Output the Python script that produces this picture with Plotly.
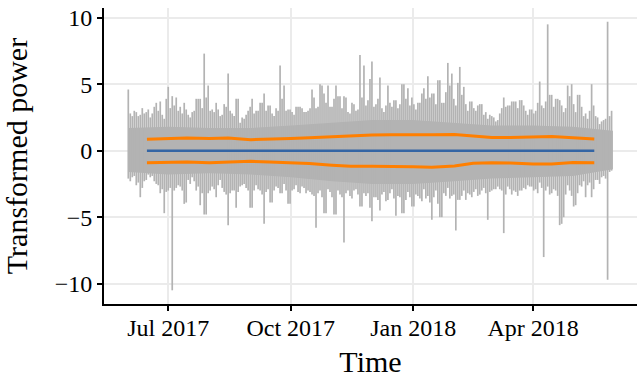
import pandas as pd
import plotly.graph_objects as go

# Transformed power: extremes per 3-day window, starting 2017-06-01
window_start = "2017-06-01"
window_days = 3
window_high = [
    4.6, 2.6, 2.9, 2.7, 2.8, 3.1, 2.8, 3.6, 3.7, 2.4,
    4.8, 4.1, 4.0, 3.3, 3.6, 2.7, 2.9, 3.9, 3.9, 7.3,
    4.9, 3.1, 3.6, 2.6, 3.5, 5.8, 2.8, 3.9, 2.1, 2.4,
    3.0, 3.9, 3.0, 3.6, 4.3, 3.4, 2.8, 3.2, 6.4, 4.9,
    3.1, 2.9, 3.3, 3.3, 2.9, 3.0, 4.6, 3.2, 5.0, 4.3,
    4.9, 3.3, 4.9, 4.1, 4.1, 2.9, 3.6, 3.0, 7.2, 6.4,
    3.8, 6.7, 3.5, 5.5, 2.9, 4.9, 3.3, 3.8, 3.5, 5.0,
    4.7, 4.0, 3.1, 3.6, 4.7, 5.6, 4.3, 3.5, 5.3, 3.6,
    6.6, 5.8, 3.4, 6.3, 4.8, 3.0, 3.7, 3.0, 3.5, 2.7,
    2.4, 2.6, 2.2, 2.8, 4.0, 3.4, 3.7, 3.7, 3.8, 3.4,
    2.7, 3.1, 3.0, 5.2, 3.2, 9.5, 4.2, 3.9, 3.8, 2.9,
    4.9, 5.0, 2.9, 4.2, 2.6, 2.4, 5.0, 2.6, 2.0, 2.3,
    9.7, 3.0,
]
window_low = [
    -2.1, -2.0, -2.6, -3.5, -2.3, -1.8, -1.9, -2.5, -3.2, -4.7,
    -3.0, -10.5, -2.8, -2.7, -4.0, -2.2, -2.0, -3.0, -4.1, -4.8,
    -3.2, -2.7, -3.5, -2.2, -3.1, -5.6, -3.0, -4.3, -2.7, -2.5,
    -3.0, -4.3, -2.6, -3.0, -5.5, -2.9, -3.9, -2.7, -3.2, -2.5,
    -4.0, -3.0, -2.6, -3.2, -2.8, -3.0, -3.3, -5.8, -3.0, -4.7,
    -2.9, -3.5, -4.8, -3.3, -6.9, -3.0, -3.6, -2.9, -4.2, -3.2,
    -3.2, -5.3, -3.5, -4.5, -3.1, -3.7, -2.9, -4.9, -3.5, -4.7,
    -3.1, -4.2, -3.3, -3.6, -2.9, -3.4, -5.2, -3.0, -5.0, -3.2,
    -2.8, -3.4, -6.0, -3.7, -3.0, -3.2, -3.5, -2.9, -3.3, -2.8,
    -5.2, -3.0, -2.9, -2.9, -6.2, -2.7, -3.3, -3.1, -3.0, -2.8,
    -2.6, -2.7, -2.9, -2.4, -8.0, -2.7, -3.2, -3.0, -5.6, -5.0,
    -2.6, -3.4, -4.1, -2.6, -2.3, -2.6, -3.5, -2.2, -2.5, -1.9,
    -9.7, -1.5,
]

# Extremes of the windows offset by half a window (starting 2017-06-02 12:00)
offset_high = [
    2.8, 3.0, 2.6, 3.2, 2.9, 2.5, 3.3, 3.0, 2.7, 3.9,
    3.2, 3.4, 3.0, 2.8, 3.1, 2.5, 3.0, 3.9, 3.2, 4.0,
    3.0, 2.9, 3.1, 2.7, 3.3, 3.0, 2.6, 3.9, 2.5, 2.7,
    3.3, 2.8, 3.0, 3.6, 3.0, 3.4, 2.6, 3.0, 3.9, 3.0,
    3.1, 2.7, 3.3, 3.2, 2.9, 3.2, 4.0, 3.3, 4.9, 3.6,
    3.3, 3.9, 4.1, 3.2, 4.0, 2.8, 3.5, 3.1, 4.0, 3.4,
    5.4, 3.3, 3.9, 3.2, 3.4, 3.6, 3.8, 3.2, 5.0, 3.9,
    3.4, 3.5, 3.6, 4.3, 3.9, 4.0, 4.3, 5.3, 3.6, 4.4,
    4.9, 3.9, 5.1, 4.2, 3.5, 3.7, 3.2, 3.4, 3.5, 2.9,
    2.7, 2.5, 2.3, 3.2, 3.3, 3.4, 3.7, 3.2, 3.8, 3.0,
    3.1, 2.8, 3.6, 3.4, 3.7, 4.2, 3.3, 3.9, 3.4, 3.2,
    4.1, 3.5, 4.2, 3.3, 2.8, 3.0, 3.4, 2.5, 2.2, 2.4,
    2.6,
]
offset_low = [
    -2.3, -1.9, -2.4, -2.8, -2.2, -2.0, -2.3, -2.6, -2.9, -3.1,
    -2.8, -3.0, -2.6, -3.0, -3.9, -2.5, -2.3, -2.7, -3.2, -4.8,
    -3.0, -2.9, -2.6, -2.8, -3.3, -3.2, -3.0, -3.1, -2.6, -2.8,
    -4.3, -3.0, -2.9, -3.3, -3.1, -3.9, -3.0, -2.8, -3.2, -3.0,
    -4.0, -2.9, -3.1, -2.7, -3.2, -3.1, -3.4, -3.2, -3.5, -4.7,
    -3.1, -4.8, -3.0, -3.5, -3.2, -3.4, -3.0, -3.3, -4.2, -3.4,
    -4.3, -3.5, -3.7, -3.3, -3.8, -3.2, -3.6, -3.4, -4.7, -3.7,
    -3.5, -4.2, -3.4, -3.8, -3.6, -3.9, -3.5, -4.0, -5.0, -3.4,
    -3.6, -3.3, -3.7, -3.4, -3.7, -3.3, -3.1, -3.4, -3.0, -3.2,
    -3.1, -2.9, -2.7, -3.0, -3.3, -2.9, -3.0, -3.4, -3.0, -2.9,
    -2.7, -3.0, -3.2, -2.8, -3.0, -3.3, -2.9, -3.4, -5.5, -3.3,
    -3.0, -4.2, -3.2, -2.7, -3.5, -2.4, -2.9, -2.2, -2.0, -2.1,
    -1.6,
]

# Dense body of the series (monthly levels)
body_dates = pd.to_datetime([
    "2017-06-01", "2017-07-01", "2017-08-01", "2017-09-01", "2017-10-01",
    "2017-11-01", "2017-12-01", "2018-01-01", "2018-02-01", "2018-03-01",
    "2018-04-01", "2018-05-01", "2018-05-31",
])
body_high = [1.7, 1.8, 1.7, 1.7, 1.9, 2.1, 2.3, 2.3, 2.1, 1.9, 1.9, 1.8, 1.5]
body_low = [-1.6, -1.8, -1.7, -1.8, -2.0, -2.3, -2.5, -2.5, -2.3, -2.1, -2.0, -1.9, -1.4]

# Fitted mean and +/- one standard deviation bands
fit_dates = pd.to_datetime([
    "2017-06-15", "2017-07-01", "2017-07-15", "2017-08-01", "2017-08-15",
    "2017-09-01", "2017-09-15", "2017-10-01", "2017-10-15", "2017-11-01",
    "2017-11-15", "2017-12-01", "2017-12-15", "2018-01-01", "2018-01-15",
    "2018-02-01", "2018-02-15", "2018-03-01", "2018-03-15", "2018-04-01",
    "2018-04-15", "2018-05-01", "2018-05-17",
])
fit_mean = [0.0] * 23
fit_upper = [0.86, 0.90, 0.95, 0.92, 0.95, 0.83, 0.86, 0.92, 0.98, 1.07,
             1.15, 1.18, 1.20, 1.17, 1.20, 1.22, 1.12, 1.00, 1.00, 1.02,
             1.07, 0.97, 0.88]
fit_lower = [-0.90, -0.88, -0.85, -0.90, -0.86, -0.80, -0.85, -0.90, -0.97, -1.10,
             -1.18, -1.17, -1.17, -1.20, -1.25, -1.15, -0.95, -0.90, -0.92, -1.00,
             -1.00, -0.88, -0.90]

tick_dates = ["2017-07-01", "2017-10-01", "2018-01-01", "2018-04-01"]
tick_labels = ["Jul 2017", "Oct 2017", "Jan 2018", "Apr 2018"]
y_ticks = [-10, -5, 0, 5, 10]

GREY = "#b3b3b3"
FONT = "Liberation Serif"

start = pd.Timestamp(window_start)
step = pd.Timedelta(days=window_days)
seg_x, seg_y = [], []
for i, (lo, hi) in enumerate(zip(window_low, window_high)):
    d = start + i * step
    seg_x += [d, d, None]
    seg_y += [lo, hi, None]
for i, (lo, hi) in enumerate(zip(offset_low, offset_high)):
    d = start + i * step + step / 2
    seg_x += [d, d, None]
    seg_y += [lo, hi, None]

fig = go.Figure()
# solid body under the spikes
fig.add_trace(go.Scatter(x=body_dates, y=body_low, mode="lines",
                         line=dict(width=0, color=GREY), hoverinfo="skip"))
fig.add_trace(go.Scatter(x=body_dates, y=body_high, mode="lines", fill="tonexty",
                         fillcolor=GREY, line=dict(width=0, color=GREY), hoverinfo="skip"))
fig.add_trace(go.Scatter(x=seg_x, y=seg_y, mode="lines",
                         line=dict(width=1.7, color=GREY), hoverinfo="skip"))
fig.add_trace(go.Scatter(x=fit_dates, y=fit_mean, mode="lines",
                         line=dict(width=2.6, color="#3465a4")))
fig.add_trace(go.Scatter(x=fit_dates, y=fit_upper, mode="lines",
                         line=dict(width=3, color="#ff7f00")))
fig.add_trace(go.Scatter(x=fit_dates, y=fit_lower, mode="lines",
                         line=dict(width=3, color="#ff7f00")))

axis_common = dict(
    showline=True, linecolor="black", linewidth=1.8,
    ticks="outside", ticklen=5, tickwidth=1.6, tickcolor="black",
    showgrid=True, gridcolor="#ebebeb", gridwidth=1.5, zeroline=False,
    tickfont=dict(family=FONT, size=24, color="black"),
)

fig.update_layout(
    width=637, height=380,
    margin=dict(l=104, r=0, t=8, b=76),
    paper_bgcolor="white", plot_bgcolor="white",
    showlegend=False,
    xaxis=dict(
        range=["2017-05-13 18:00", "2018-06-18 02:00"],
        tickvals=tick_dates, ticktext=tick_labels,
        ticklabelstandoff=-4,
        title=dict(text="Time", font=dict(family=FONT, size=30, color="black"), standoff=11),
        **axis_common,
    ),
    yaxis=dict(
        range=[-11.53, 10.73],
        tickvals=y_ticks,
        title=dict(text="Transformed power", font=dict(family=FONT, size=30, color="black"), standoff=24),
        **axis_common,
    ),
)

fig.write_html("out.html")
